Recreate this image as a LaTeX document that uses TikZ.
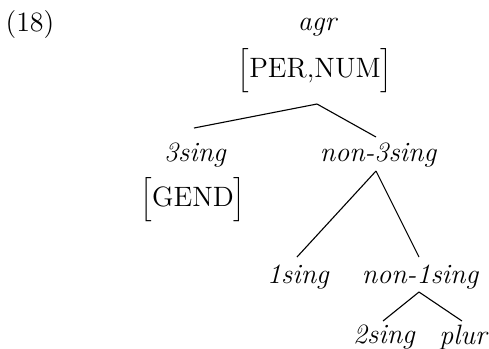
\documentclass[tikz,border=0pt]{standalone}
\newcommand{\lbrk}{{\fontsize{10.4}{12}\selectfont$\Big[$}}
\newcommand{\rbrk}{{\fontsize{10.4}{12}\selectfont$\Big]$}}
\begin{document}
\begin{tikzpicture}[x=0.407pt,y=-0.407pt,
  every node/.style={font=\fontsize{11.4}{13}\selectfont},
  lab/.style={inner sep=0pt,font=\fontsize{11.4}{13}\selectfont\itshape},
  feat/.style={inner sep=0pt},
  edge/.style={line width=0.45pt}]
\useasboundingbox (0,0) rectangle (489,348);
\node[inner sep=0pt] (num) at (30,25) {(18)};
\node[lab] (agr) at (317,27) {agr};
\node[feat] (agrf) at (315,71) {\lbrk PER,NUM\rbrk};
\node[lab] (s3) at (195,155) {3sing};
\node[feat] (s3f) at (193,200) {\lbrk GEND\rbrk};
\node[lab] (n3) at (378,155) {non-3sing};
\node[lab] (s1) at (298,277) {1sing};
\node[lab] (n1) at (420,277) {non-1sing};
\node[lab] (s2) at (384,337) {2sing};
\node[lab] (pl) at (463,337) {plur};
\coordinate (a0) at (317,104);
\coordinate (a1) at (376,171);
\coordinate (a2) at (419,292);
\draw[edge] (a0) -- (194,128);
\draw[edge] (a0) -- (376,137);
\draw[edge] (a1) -- (297,257);
\draw[edge] (a1) -- (419,257);
\draw[edge] (a2) -- (383,321);
\draw[edge] (a2) -- (462,321);
\end{tikzpicture}
\end{document}
